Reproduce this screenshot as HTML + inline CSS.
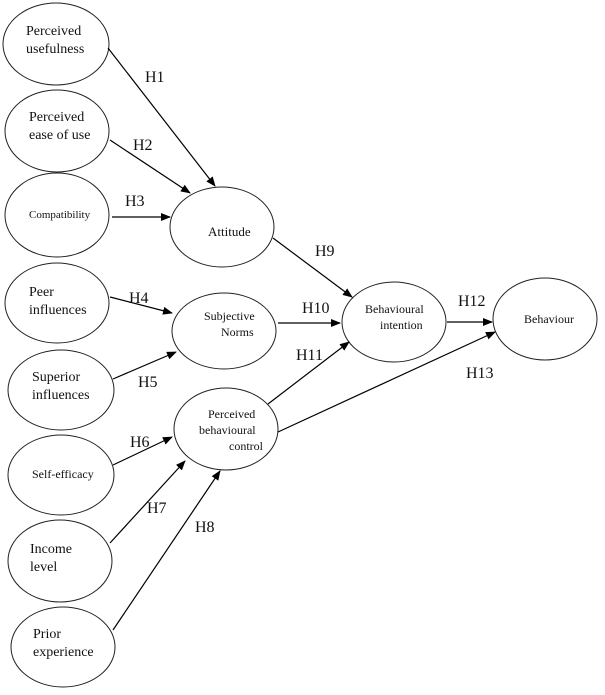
<!DOCTYPE html>
<html><head><meta charset="utf-8"><style>
html,body{margin:0;padding:0;background:#fff;}
svg{display:block;font-family:"Liberation Serif",serif;}
</style></head><body>
<svg width="605" height="695" viewBox="0 0 605 695" xmlns="http://www.w3.org/2000/svg">
<defs><marker id="a" markerWidth="10" markerHeight="8" refX="9" refY="4" orient="auto" markerUnits="userSpaceOnUse"><path d="M0,0 L10,4 L0,8 z" fill="#000"/></marker></defs>
<g fill="#fff" stroke="#222" stroke-width="1">
<ellipse cx="56" cy="44" rx="53" ry="41"/>
<ellipse cx="57" cy="131" rx="52" ry="41"/>
<ellipse cx="57" cy="215" rx="52" ry="42"/>
<ellipse cx="222" cy="227" rx="52" ry="40"/>
<ellipse cx="57" cy="303" rx="52" ry="40"/>
<ellipse cx="224" cy="331" rx="52" ry="38"/>
<ellipse cx="61" cy="390" rx="53" ry="40"/>
<ellipse cx="226" cy="429" rx="52" ry="41"/>
<ellipse cx="61" cy="475" rx="53" ry="40"/>
<ellipse cx="60" cy="561" rx="52" ry="41"/>
<ellipse cx="63" cy="647" rx="52" ry="40"/>
<ellipse cx="394" cy="322" rx="52" ry="40"/>
<ellipse cx="545" cy="319" rx="52" ry="41"/>
</g>
<g stroke="#000" stroke-width="1.2" marker-end="url(#a)">
<line x1="108" y1="48" x2="215" y2="186"/>
<line x1="110" y1="140" x2="190" y2="193"/>
<line x1="112" y1="217" x2="170" y2="217"/>
<line x1="273" y1="238" x2="352" y2="297"/>
<line x1="110" y1="297" x2="172" y2="313"/>
<line x1="113" y1="379" x2="176" y2="352"/>
<line x1="278" y1="323" x2="340" y2="323"/>
<line x1="113" y1="465" x2="172" y2="437"/>
<line x1="110" y1="543" x2="185" y2="461"/>
<line x1="113" y1="630" x2="220" y2="471"/>
<line x1="268" y1="404" x2="349" y2="342"/>
<line x1="278" y1="432" x2="495" y2="332"/>
<line x1="447" y1="322" x2="492" y2="322"/>
</g>
<g font-size="14" fill="#111">
<text x="26" y="35">Perceived</text><text x="26" y="53">usefulness</text>
<text x="29" y="121">Perceived</text><text x="29" y="139">ease of use</text>
<text x="29" y="218" font-size="11">Compatibility</text>
<text x="208" y="236" font-size="13">Attitude</text>
<text x="29" y="296">Peer</text><text x="29" y="314">influences</text>
<text x="204" y="320" font-size="12">Subjective</text><text x="221" y="336" font-size="12">Norms</text>
<text x="32" y="381">Superior</text><text x="32" y="399">influences</text>
<text x="208" y="418" font-size="12">Perceived</text><text x="199" y="434" font-size="12">behavioural</text><text x="229" y="450" font-size="12">control</text>
<text x="32" y="478" font-size="12">Self-efficacy</text>
<text x="30" y="553">Income</text><text x="30" y="571">level</text>
<text x="33" y="638">Prior</text><text x="33" y="656">experience</text>
<text x="365" y="313" font-size="12">Behavioural</text><text x="380" y="329" font-size="12">intention</text>
<text x="524" y="323" font-size="12">Behaviour</text>
</g>
<g font-size="16" fill="#111">
<text x="145" y="82">H1</text>
<text x="133" y="150">H2</text>
<text x="125" y="206">H3</text>
<text x="129" y="303">H4</text>
<text x="138" y="387">H5</text>
<text x="130" y="447">H6</text>
<text x="147" y="513">H7</text>
<text x="195" y="532">H8</text>
<text x="315" y="256">H9</text>
<text x="302" y="313">H10</text>
<text x="296" y="360">H11</text>
<text x="458" y="306">H12</text>
<text x="466" y="378">H13</text>
</g>
</svg>
</body></html>
